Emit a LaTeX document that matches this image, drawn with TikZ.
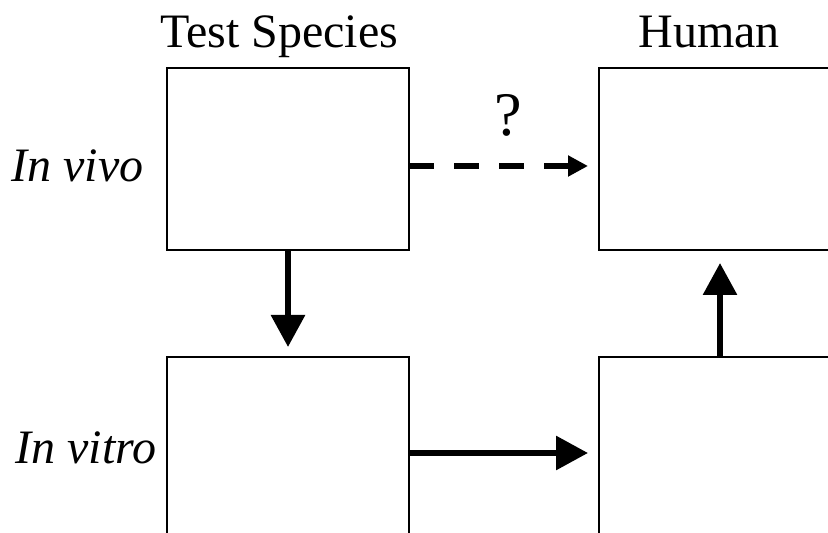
\documentclass[tikz,border=0pt]{standalone}
\usepackage{fontspec}
\setmainfont{Liberation Serif}
\usetikzlibrary{arrows.meta}
\tikzstyle{diagram} = [x = .5pt, y = -.5pt]
\tikzstyle{stageBoxStyle} = [draw, line width = 1pt, minimum width = 121pt, minimum height = 91pt, inner sep = 0pt, outer sep = 0pt]
\tikzstyle{stageArrow} = [line width = 3pt, -{Triangle[length = 16pt, width = 16.5pt]}]
\tikzstyle{guessArrow} = [line width = 3pt, dash pattern = on 12.5pt off 10pt, -{Triangle[length = 10pt, width = 10pt]}]
\tikzstyle{headerText} = [font = \fontsize{24}{28}\selectfont, inner sep = 0pt, anchor = base]
\tikzstyle{rowText} = [font = \fontsize{24}{28}\selectfont\itshape, inner sep = 0pt, anchor = base west]
\tikzstyle{guessText} = [font = \fontsize{31}{36}\selectfont, inner sep = 0pt, anchor = base]
\newcommand{\stageBox}[3]{\node [stageBoxStyle] (#1) at (#2, #3) {};}
\begin{document}
\begin{tikzpicture}[diagram]
  \path [use as bounding box, clip] (0,0) rectangle (828,533);
  \stageBox{testVivo}{288}{159}
  \stageBox{humanVivo}{720}{159}
  \stageBox{testVitro}{288}{448}
  \stageBox{humanVitro}{720}{448}

  \node [headerText] (testHeader) at (279,48) {Test Species};
  \node [headerText] (humanHeader) at (709,48) {Human};
  \node [rowText] (vivoLabel) at (11,182) {In vivo};
  \node [rowText] (vitroLabel) at (15,463) {In vitro};
  \node [guessText] (guessMark) at (508,136) {?};

  \draw [guessArrow, shorten > = 5.5pt] ([yshift = -3.5pt]testVivo.east) -- ([yshift = -3.5pt]humanVivo.west);
  \draw [stageArrow, shorten > = 5pt] (testVivo.south) -- (testVitro.north);
  \draw [stageArrow, shorten > = 5.5pt] ([yshift = -2.5pt]testVitro.east) -- ([yshift = -2.5pt]humanVitro.west);
  \draw [stageArrow, shorten > = 6.5pt] (humanVitro.north) -- (humanVivo.south);
\end{tikzpicture}
\end{document}
